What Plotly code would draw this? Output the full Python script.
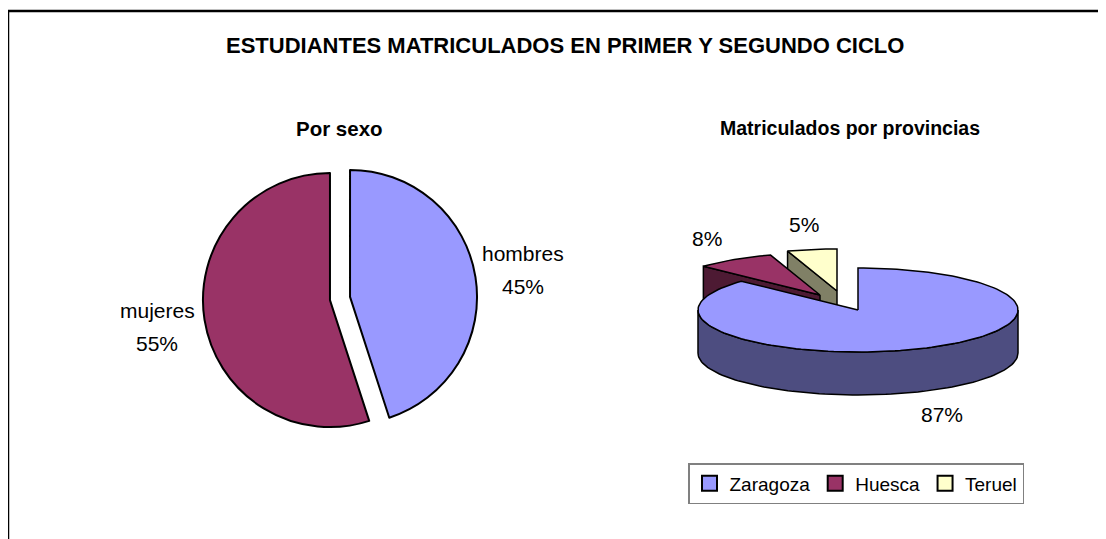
import math
import plotly.graph_objects as go

# ---------------- data ----------------
sexo_labels = ["hombres", "mujeres"]
sexo_values = [45, 55]
sexo_colors = ["#9999FF", "#993366"]

prov_labels = ["Zaragoza", "Huesca", "Teruel"]
prov_values = [87, 8, 5]
prov_top_colors = ["#9999FF", "#993366", "#FFFFCC"]
prov_side_colors = ["#4D4D80", "#4D1A33", "#808066"]

# style: apparent explode offset of each 3D slice (pixels)
prov_explode = [(0, 0), (-38, -15), (-21, -19)]

# page body has an 8px margin: size the figure to fit the 1106x539 window
OX, OY = 8, 8
W, H = 1106 - OX, 539 - OY
FONT = "Liberation Sans, Arial, sans-serif"


def px(x):
    return (x - OX) / W


def py(y):
    return 1 - (y - OY) / H


fig = go.Figure()

# ---------------- left pie (flat, exploded) ----------------
cxl, cyl, rl, pull_l = 340, 298.5, 127, 0.08
half = rl * (1 + pull_l)
fig.add_trace(go.Pie(
    labels=sexo_labels, values=sexo_values, sort=False, direction="clockwise",
    rotation=0, pull=[pull_l, pull_l],
    marker=dict(colors=sexo_colors, line=dict(color="black", width=2)),
    textinfo="none",
    domain=dict(x=[px(cxl - half), px(cxl + half)],
                y=[py(cyl + half), py(cyl - half)]),
    showlegend=False, hoverinfo="label+percent",
))
tot_s = sum(sexo_values)
cum = 0
for lab, v in zip(sexo_labels, sexo_values):
    mid = (cum + v / 2) / tot_s * 2 * math.pi  # clockwise from 12 o'clock
    cum += v
    lx = cxl + 185 * math.sin(mid)
    ly = cyl - 185 * math.cos(mid)
    for dyl, t in ((-16.5, lab), (16.5, f"{round(v / tot_s * 100)}%")):
        fig.add_annotation(x=px(lx), y=py(ly + dyl), xref="paper", yref="paper",
                           showarrow=False, xanchor="center", yanchor="middle", text=t,
                           font=dict(family=FONT, size=21, color="black"))

# ---------------- right pie (pseudo 3D) ----------------
cx, cy, a, b, depth = 858, 310, 160, 42, 43
total = sum(prov_values)
slices = []
cum = 0
for i, v in enumerate(prov_values):
    ts = 90 - cum / total * 360
    cum += v
    te = 90 - cum / total * 360
    mid = (ts + te) / 2
    dx, dy = prov_explode[i]
    slices.append(dict(i=i, ts=ts, te=te, mid=mid, dx=dx, dy=dy))


def rim(t, dx, dy, down=0.0):
    r = math.radians(t)
    return cx + dx + a * math.cos(r), cy + dy - b * math.sin(r) + down


def add_poly(xs, ys, color):
    fig.add_trace(go.Scatter(
        x=xs + [xs[0]], y=ys + [ys[0]], mode="lines", fill="toself",
        fillcolor=color, line=dict(color="black", width=1.5),
        showlegend=False, hoverinfo="skip", xaxis="x", yaxis="y",
    ))


def arc(t0, t1, dx, dy, down=0.0):
    n = max(4, int(abs(t1 - t0) / 2))
    pts = [rim(t0 + (t1 - t0) * k / n, dx, dy, down) for k in range(n + 1)]
    return [p[0] for p in pts], [p[1] for p in pts]


# draw back slices first
order = sorted(slices, key=lambda s: math.sin(math.radians(s["mid"])), reverse=True)
for s in order:
    i, ts, te, dx, dy = s["i"], s["ts"], s["te"], s["dx"], s["dy"]
    ax, ay = cx + dx, cy + dy
    side = prov_side_colors[i]
    # radial faces turned towards the viewer
    for t, nrm in ((ts, ts + 90), (te, te - 90)):
        if math.sin(math.radians(nrm)) < -1e-6:
            rx, ry = rim(t, dx, dy)
            add_poly([ax, rx, rx, ax], [ay, ry, ry + depth, ay + depth], side)
    # curved outer wall (front half only)
    for base in range(-720, 721, 360):
        s0, s1 = max(te, base - 180), min(ts, base)
        if s1 > s0:
            tx, ty = arc(s0, s1, dx, dy)
            bx, by = arc(s1, s0, dx, dy, depth)
            add_poly(tx + bx, ty + by, side)
    # top face
    tx, ty = arc(ts, te, dx, dy)
    add_poly([ax] + tx, [ay] + ty, prov_top_colors[i])

# legend entries (square swatches)
for i, name in enumerate(prov_labels):
    fig.add_trace(go.Scatter(
        x=[None], y=[None], mode="markers", name=name,
        marker=dict(symbol="square", size=15, color=prov_top_colors[i],
                    line=dict(color="black", width=2)),
        showlegend=True, xaxis="x", yaxis="y",
    ))

# percentage labels
for s in slices:
    i, mid = s["i"], s["mid"]
    r = math.radians(mid)
    x = cx + s["dx"] + a * 1.32 * math.cos(r)
    y = cy + s["dy"] - b * 1.6 * math.sin(r) + (depth if math.sin(r) < 0 else 0)
    fig.add_annotation(x=x, y=y, xref="x", yref="y", showarrow=False,
                       xanchor="center", yanchor="middle",
                       text=f"{round(prov_values[i] / total * 100)}%",
                       font=dict(family=FONT, size=21, color="black"))

# ---------------- titles & frame ----------------
titles = [
    (565, 45, "<b>ESTUDIANTES MATRICULADOS EN PRIMER Y SEGUNDO CICLO</b>", 22),
    (339, 128, "<b>Por sexo</b>", 20.5),
    (850, 128, "<b>Matriculados por provincias</b>", 19.5),
]
for x, y, t, fs in titles:
    fig.add_annotation(x=px(x), y=py(y), xref="paper", yref="paper", showarrow=False,
                       xanchor="center", yanchor="middle", text=t,
                       font=dict(family=FONT, size=fs, color="black"))

fig.add_shape(type="rect", xref="paper", yref="paper",
              x0=px(8), y0=py(11), x1=1.2, y1=-0.2,
              line=dict(color="black", width=2.5), layer="above")

fig.update_layout(
    width=W, height=H, margin=dict(l=0, r=0, t=0, b=0),
    paper_bgcolor="white", plot_bgcolor="white",
    xaxis=dict(range=[OX, OX + W], domain=[0, 1], visible=False, fixedrange=True),
    yaxis=dict(range=[OY + H, OY], domain=[0, 1], visible=False, fixedrange=True),
    legend=dict(orientation="h", x=px(688), y=py(463), xanchor="left", yanchor="top",
                bordercolor="#808080", borderwidth=1.5, bgcolor="white",
                font=dict(family=FONT, size=19, color="black"),
                itemwidth=30, tracegroupgap=0),
    font=dict(family=FONT),
)

fig.write_html("out.html")
